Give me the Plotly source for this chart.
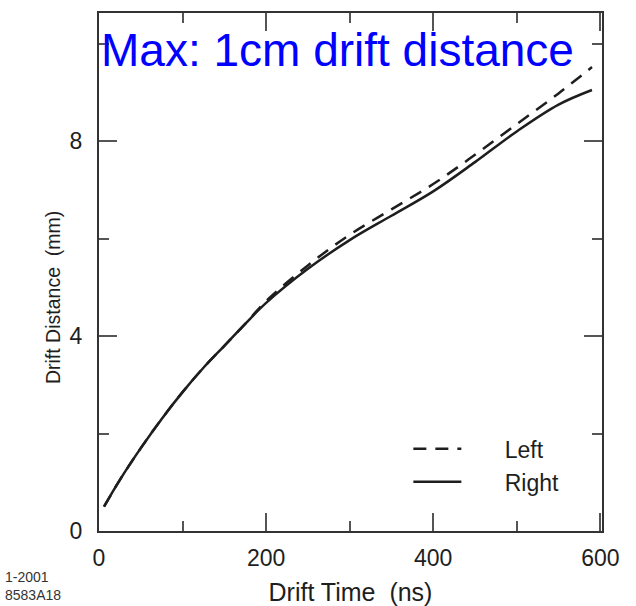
import plotly.graph_objects as go

# Data
drift_time = [6, 25, 50, 75, 100, 125, 150, 175, 200, 250, 300, 350, 400, 450, 500, 550, 590]
right_mm = [0.5, 1.05, 1.7, 2.3, 2.85, 3.35, 3.8, 4.25, 4.68, 5.38, 5.97, 6.47, 6.97, 7.57, 8.2, 8.75, 9.05]
left_mm = [0.5, 1.05, 1.7, 2.3, 2.85, 3.35, 3.8, 4.25, 4.72, 5.45, 6.08, 6.6, 7.12, 7.72, 8.35, 8.98, 9.52]
series_names = ["Left", "Right"]
x_ticks = [0, 200, 400, 600]
y_ticks = [0, 4, 8]

FONT = "Liberation Sans, Arial, Helvetica, sans-serif"
INK = "#1e1e1e"
PAD = "\u00a0" * 6

fig = go.Figure()
fig.add_trace(go.Scatter(x=drift_time, y=left_mm, mode="lines", name=PAD + series_names[0],
                         line=dict(color=INK, width=2.5, dash="13px,9px", shape="spline")))
fig.add_trace(go.Scatter(x=drift_time, y=right_mm, mode="lines", name=PAD + series_names[1],
                         line=dict(color=INK, width=2.5, shape="spline")))

axis_common = dict(
    showline=True, linecolor="#333333", linewidth=2, mirror="allticks",
    ticks="inside", tickcolor="#555555", tickwidth=1.5, ticklen=18,
    showgrid=False, zeroline=False, automargin=False,
    tickfont=dict(family=FONT, size=23, color=INK),
)

fig.update_layout(
    width=636, height=606,
    margin=dict(l=99, r=34, t=13, b=75),
    paper_bgcolor="white", plot_bgcolor="white",
    font=dict(family=FONT, color=INK),
    xaxis=dict(range=[0, 602], tickvals=x_ticks,
               minor=dict(tickvals=[100, 300, 500], ticks="inside", ticklen=10,
                          tickcolor="#555555", tickwidth=1.5),
               ticklabelstandoff=5,
               title=dict(text="Drift Time  (ns)", font=dict(family=FONT, size=25, color=INK),
                          standoff=17),
               **axis_common),
    yaxis=dict(range=[0, 10.63], tickvals=y_ticks,
               minor=dict(tickvals=[2, 6, 10], ticks="inside", ticklen=10,
                          tickcolor="#555555", tickwidth=1.5),
               ticklabelstandoff=10,
               **axis_common),
    showlegend=True,
    legend=dict(x=0.615, y=0.2, xanchor="left", yanchor="top",
                bgcolor="rgba(0,0,0,0)", font=dict(family=FONT, size=23, color=INK),
                itemwidth=48, tracegroupgap=0),
)

fig.add_annotation(text="Max: 1cm drift distance", xref="paper", yref="paper",
                   x=0.0, y=1.0, xanchor="left", yanchor="top", yshift=-9, showarrow=False,
                   font=dict(family=FONT, size=46, color="#0000ff"))
fig.add_annotation(text="Drift Distance  (mm)", xref="paper", yref="paper",
                   x=-0.117, y=0.45, textangle=-90, showarrow=False,
                   font=dict(family=FONT, size=19.5, color=INK))
fig.add_annotation(text="1-2001<br>8583A18", xref="paper", yref="paper",
                   x=-0.19, y=-0.07, xanchor="left", yanchor="top", align="left",
                   showarrow=False, font=dict(family=FONT, size=14, color="#333333"))

fig.write_html("out.html")
